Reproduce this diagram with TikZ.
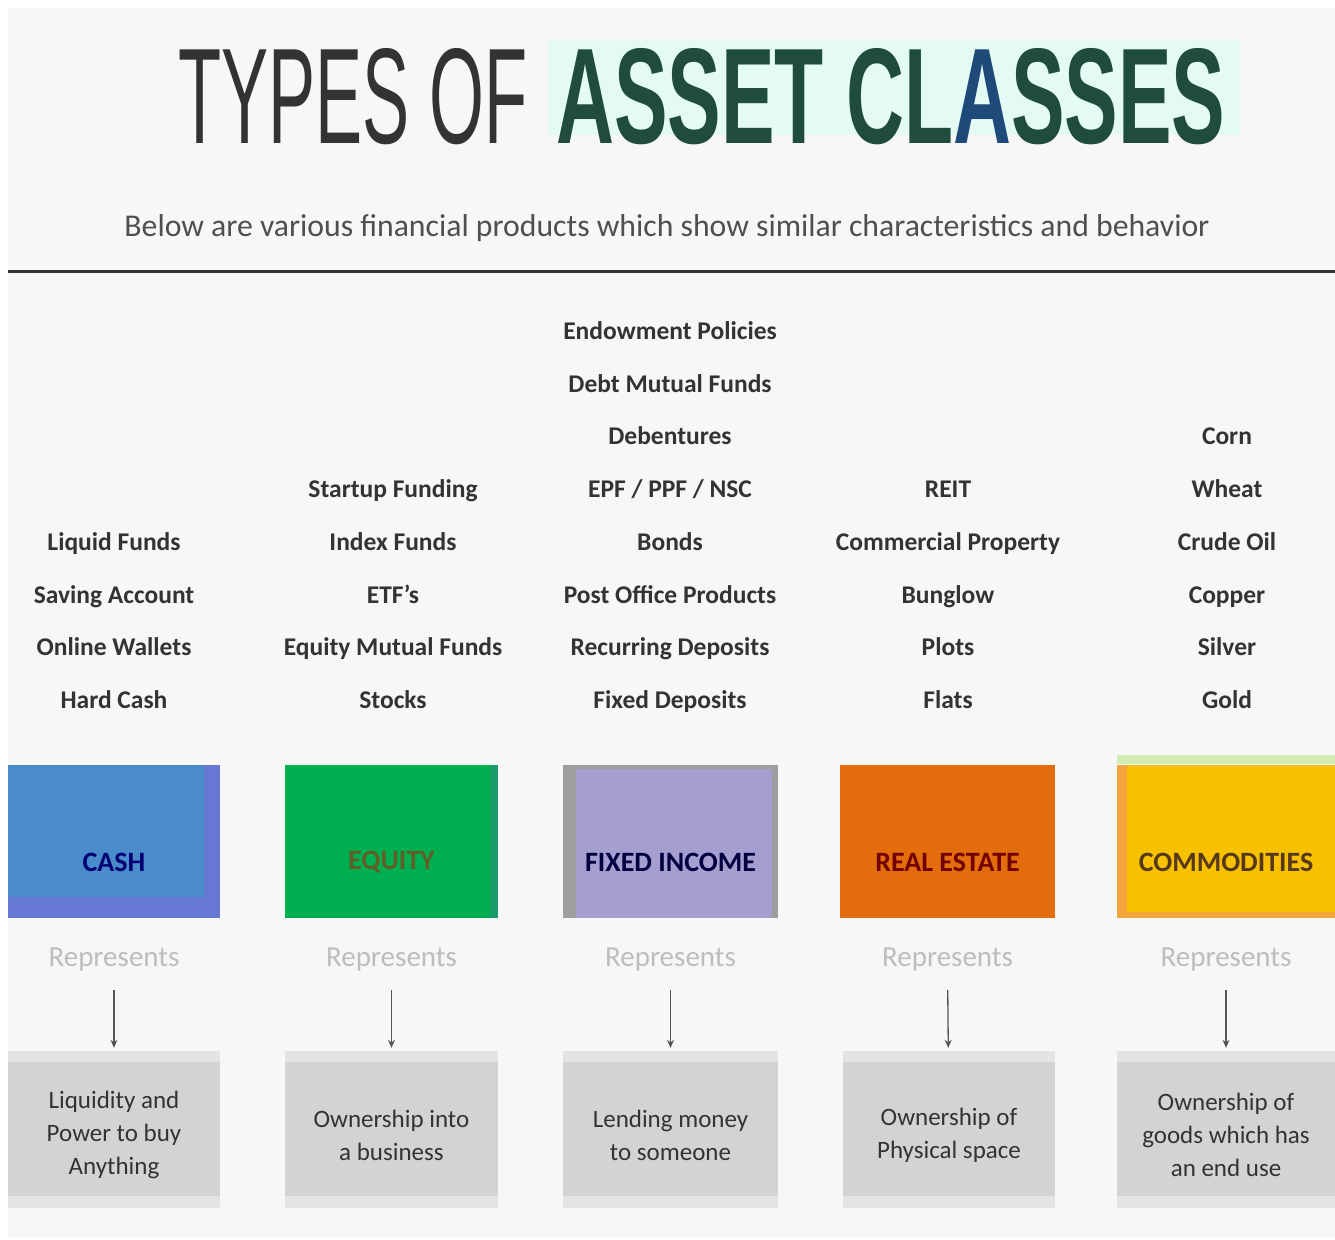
\documentclass[tikz,border=0pt]{standalone}
\usepackage{fontspec}
\setmainfont{Carlito}
\newfontfamily\titlefont{Liberation Sans}
\usepackage{graphicx}
\usetikzlibrary{arrows.meta}
\definecolor{bgpanel}{HTML}{F7F7F7}
\definecolor{txtdark}{HTML}{333333}
\definecolor{subgray}{HTML}{4F4F4F}
\definecolor{repgray}{HTML}{BDBDBD}
\definecolor{titlegreen}{HTML}{1F4C3D}
\definecolor{titleblue}{HTML}{1E4A7A}
\definecolor{titlehl}{HTML}{E4FBF5}
\definecolor{cashblue}{HTML}{4A8CCB}
\definecolor{cashband}{HTML}{6678D4}
\definecolor{eqgreen}{HTML}{00B050}
\definecolor{eqband}{HTML}{1A9C68}
\definecolor{fipurple}{HTML}{A59FCF}
\definecolor{fiband}{HTML}{9E9E9E}
\definecolor{reorange}{HTML}{E36C0C}
\definecolor{comgold}{HTML}{F8C100}
\definecolor{comband}{HTML}{F3A43C}
\definecolor{descgray}{HTML}{D3D3D3}
\definecolor{descstrip}{HTML}{E4E4E4}
\definecolor{arrgray}{HTML}{555555}
\begin{document}
\begin{tikzpicture}[x=1pt,y=-1pt,
  listitem/.style={font=\bfseries\fontsize{25.5}{25.5}\selectfont, text=txtdark, inner sep=0pt,
    text height=17pt, text depth=6pt},
  catbox/.style={minimum width=#1, minimum height=153pt, inner sep=0pt, draw=none},
  catlabel/.style={font=\bfseries\fontsize{28}{28}\selectfont, inner sep=0pt},
  reptext/.style={font=\fontsize{29}{29}\selectfont, text=repgray, inner sep=0pt, minimum height=30pt},
  descbox/.style={fill=descgray, minimum width=#1, minimum height=146pt, inner sep=0pt, align=center,
    font=\fontsize{25}{33}\selectfont, text=txtdark},
  reparrow/.style={draw=arrgray, line width=1.3pt, -{Stealth[length=8pt,width=7pt]}, shorten <=15pt, shorten >=14pt}
]
\useasboundingbox (0,0) rectangle (1335,1239);
\fill[white] (0,0) rectangle (1335,1239);
\fill[bgpanel] (8,8) rectangle (1335,1237);

% title
\fill[titlehl] (548,40) rectangle (1240,135);
\node[inner sep=0pt, anchor=south west, text=txtdark] (t1) at (178,145)
  {\resizebox{349pt}{95pt}{\titlefont TYPES OF}};
\node[inner sep=0pt, anchor=south west, text=titlegreen] (t2) at (556,145)
  {\resizebox{669pt}{95pt}{\titlefont\bfseries ASSET CL\textcolor{titleblue}{A}SSES}};
\node[inner sep=0pt, text=subgray] (sub) at (667,228)
  {\resizebox{1085pt}{!}{\fontsize{24}{24}\selectfont Below are various financial products which show similar characteristics and behavior}};
\fill[txtdark] (8,269.5) rectangle (1335,272.5);

% item lists
\newcommand\itemcol[4]{%
  \foreach \t [count=\i from #2] in {#4}
    \node[listitem] (#3-\i) at (#1, {334+(\i-1)*52.71}) {\t};}
\itemcol{114}{5}{cash}{Liquid Funds,Saving Account,Online Wallets,Hard Cash}
\itemcol{393}{4}{eq}{Startup Funding,Index Funds,ETF's,Equity Mutual Funds,Stocks}
\itemcol{670}{1}{fi}{Endowment Policies,Debt Mutual Funds,Debentures,EPF / PPF / NSC,Bonds,Post Office Products,Recurring Deposits,Fixed Deposits}
\itemcol{948}{4}{re}{REIT,Commercial Property,Bunglow,Plots,Flats}
\itemcol{1227}{3}{com}{Corn,Wheat,Crude Oil,Copper,Silver,Gold}

% category boxes
\node[catbox=212pt, fill=cashblue] (bcash) at (114,841.5) {};
\fill[cashband] (204,765) rectangle (220,918);
\fill[cashband] (8,897) rectangle (220,918);
\node[catbox=213pt, fill=eqgreen] (beq) at (391.5,841.5) {};
\fill[eqband] (490,765) rectangle (498,918);
\node[catbox=215pt, fill=fipurple] (bfi) at (670.5,841.5) {};
\fill[fiband] (563,765) rectangle (576,918);
\fill[fiband] (772,765) rectangle (778,918);
\fill[fiband] (563,765) rectangle (778,769);
\node[catbox=215pt, fill=reorange] (bre) at (947.5,841.5) {};
\node[catbox=218pt, fill=comgold] (bcom) at (1226,841.5) {};
\fill[comband] (1117,765) rectangle (1127,918);
\fill[comband] (1117,912) rectangle (1335,918);
\fill[yellow!40!green!30] (1117,755) rectangle (1335,764);

\node[catlabel, text=blue!45!black] (lcash) at (114,862) {CASH};
\node[catlabel, text=olive!60!black] (leq) at (391.5,862) {EQUITY};
\node[catlabel, text=blue!25!black] (lfi) at (670.5,862) {FIXED INCOME};
\node[catlabel, text=red!45!black] (lre) at (947.5,862) {REAL ESTATE};
\node[catlabel, text=brown!45!black] (lcom) at (1226,862) {COMMODITIES};

% represents
\node[reptext] (rcash) at (114,960) {Represents};
\node[reptext] (req) at (391.5,960) {Represents};
\node[reptext] (rfi) at (670.5,960) {Represents};
\node[reptext] (rre) at (947.5,960) {Represents};
\node[reptext] (rcom) at (1226,960) {Represents};

% description boxes
\node[descbox=212pt] (dcash) at (114,1135) {Liquidity and\\Power to buy\\Anything};
\node[descbox=213pt] (deq) at (391.5,1135) {Ownership into\\a business};
\node[descbox=215pt] (dfi) at (670.5,1135) {Lending money\\to someone};
\node[descbox=212pt] (dre) at (949,1135) {Ownership of\\Physical space};
\node[descbox=218pt] (dcom) at (1226,1135) {Ownership of\\goods which has\\an end use};
\foreach \xa/\xb in {8/220,285/498,563/778,843/1055,1117/1335}{
  \fill[descstrip] (\xa,1051) rectangle (\xb,1062);
  \fill[descstrip] (\xa,1196) rectangle (\xb,1208);
}

\foreach \a/\b in {rcash/dcash,req/deq,rfi/dfi,rre/dre,rcom/dcom}
  \draw[reparrow] (\a) -- (\b);
\end{tikzpicture}
\end{document}
